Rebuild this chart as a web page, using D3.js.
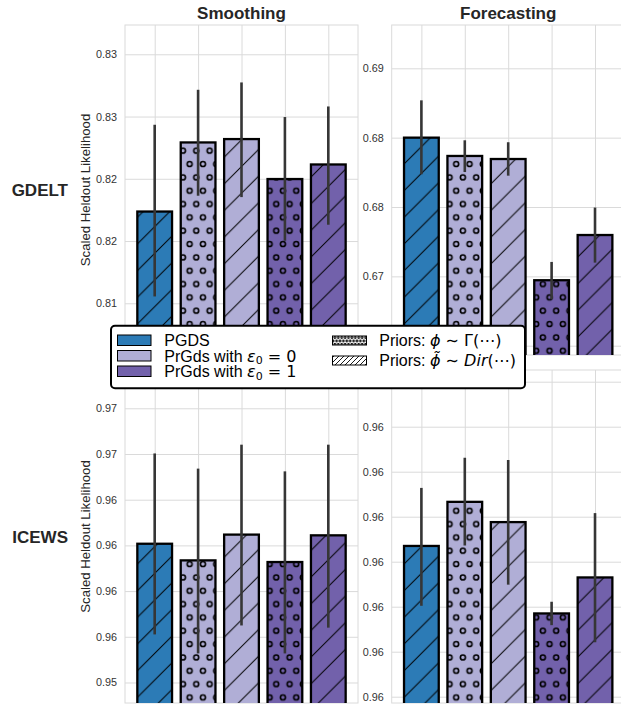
<!DOCTYPE html>
<html>
<head>
<meta charset="utf-8">
<script src="https://cdn.jsdelivr.net/npm/d3@7"></script>
<style>
  html, body { margin: 0; padding: 0; background: #fff; }
  svg { display: block; font-family: "Liberation Sans", Arial, sans-serif; }
</style>
</head>
<body>
<svg id="chart" width="621" height="706"></svg>
<script>
// ---------------- DATA ----------------
const models = ["PGDS", "PrGDS e0=0 Gamma", "PrGDS e0=0 Dir", "PrGDS e0=1 Gamma", "PrGDS e0=1 Dir"];
const modelColorKey = ["pgds", "eps0", "eps0", "eps1", "eps1"];
const modelHatchKey = ["dir", "gamma", "dir", "gamma", "dir"];

const colTitles = ["Smoothing", "Forecasting"];
const rowTitles = ["GDELT", "ICEWS"];
const yAxisLabel = "Scaled Heldout Likelihood";

// GDELT – Smoothing
const gdeltSmoothMean = [0.82237, 0.82792, 0.82819, 0.82498, 0.82615];
const gdeltSmoothLow  = [0.81555, 0.82364, 0.82353, 0.82002, 0.82131];
const gdeltSmoothHigh = [0.82934, 0.83215, 0.83274, 0.82996, 0.83081];
const gdeltSmoothLim  = [0.810847, 0.837353];
const gdeltSmoothTicks = [0.835, 0.830, 0.825, 0.820, 0.815];
const gdeltSmoothTickLabels = ["0.83", "0.83", "0.82", "0.82", "0.81"];

// GDELT – Forecasting (lowest tick label is hidden behind the legend)
const gdeltForecastMean = [0.68500, 0.68368, 0.68346, 0.67472, 0.67798];
const gdeltForecastLow  = [0.68236, 0.68252, 0.68226, 0.67335, 0.67599];
const gdeltForecastHigh = [0.68769, 0.68481, 0.68467, 0.67604, 0.67996];
const gdeltForecastLim  = [0.66933, 0.693122];
const gdeltForecastTicks = [0.690, 0.685, 0.680, 0.675, 0.670];
const gdeltForecastTickLabels = ["0.69", "0.68", "0.68", "0.67", ""];

// ICEWS – Smoothing
const icewsSmoothMean = [0.96259, 0.96168, 0.96309, 0.96159, 0.96305];
const icewsSmoothLow  = [0.95763, 0.95659, 0.95812, 0.95659, 0.95800];
const icewsSmoothHigh = [0.96753, 0.96670, 0.96801, 0.96655, 0.96801];
const icewsSmoothLim  = [0.953878, 0.972095];
const icewsSmoothTicks = [0.9700, 0.9675, 0.9650, 0.9625, 0.9600, 0.9575, 0.9550];
const icewsSmoothTickLabels = ["0.97", "0.97", "0.96", "0.96", "0.96", "0.96", "0.95"];

// ICEWS – Forecasting (top tick label is hidden behind the legend)
const icewsForecastMean = [0.96135, 0.96233, 0.96188, 0.95985, 0.96065];
const icewsForecastLow  = [0.96002, 0.96136, 0.96049, 0.95959, 0.95921];
const icewsForecastHigh = [0.96264, 0.96331, 0.96326, 0.96011, 0.96208];
const icewsForecastLim  = [0.95786, 0.96526];
const icewsForecastTicks = [0.965, 0.964, 0.963, 0.962, 0.961, 0.960, 0.959, 0.958];
const icewsForecastTickLabels = ["", "0.96", "0.96", "0.96", "0.96", "0.96", "0.96", "0.96"];

const legendColorLabels = ["PGDS", "PrGds with ε0 = 0", "PrGds with ε0 = 1"];
const legendHatchLabels = ["Priors: ϕ ∼ Γ(⋯)", "Priors: ϕ̃ ∼ Dir(⋯)"];

// ---------------- STYLE / LAYOUT ----------------
const colors = { pgds: "#2c7bb6", eps0: "#b0aed6", eps1: "#7261ab" };
const gridColor = "#dadada";
const textColor = "#262626";
const tickColor = "#333333";

const colX = [[125, 358], [391.7, 624.7]];
const rowY = [[25, 355], [370, 703]];

const panels = [
  { r: 0, c: 0, mean: gdeltSmoothMean, lo: gdeltSmoothLow, hi: gdeltSmoothHigh, lim: gdeltSmoothLim, ticks: gdeltSmoothTicks, labels: gdeltSmoothTickLabels },
  { r: 0, c: 1, mean: gdeltForecastMean, lo: gdeltForecastLow, hi: gdeltForecastHigh, lim: gdeltForecastLim, ticks: gdeltForecastTicks, labels: gdeltForecastTickLabels },
  { r: 1, c: 0, mean: icewsSmoothMean, lo: icewsSmoothLow, hi: icewsSmoothHigh, lim: icewsSmoothLim, ticks: icewsSmoothTicks, labels: icewsSmoothTickLabels },
  { r: 1, c: 1, mean: icewsForecastMean, lo: icewsForecastLow, hi: icewsForecastHigh, lim: icewsForecastLim, ticks: icewsForecastTicks, labels: icewsForecastTickLabels },
];

const svg = d3.select("#chart");
const defs = svg.append("defs");

// hatch patterns (anchored to canvas, like matplotlib)
const S = 26.67;
defs.append("pattern").attr("id", "hatch-dir").attr("patternUnits", "userSpaceOnUse")
  .attr("width", S).attr("height", S).attr("x", 0).attr("y", 8)
  .append("path")
  .attr("d", `M0,${S} L${S},0 M${-S/2},${S/2} L${S/2},${-S/2} M${S/2},${1.5*S} L${1.5*S},${S/2}`)
  .attr("stroke", "#000").attr("stroke-width", 1).attr("fill", "none");

const W = 13.33, H = 26.67;
const pc = defs.append("pattern").attr("id", "hatch-gamma").attr("patternUnits", "userSpaceOnUse")
  .attr("width", W).attr("height", H).attr("x", 3).attr("y", 4);
[[0,0],[W,0],[0,H],[W,H],[W/2,H/2]].forEach(([cx, cy]) => {
  pc.append("circle").attr("cx", cx).attr("cy", cy).attr("r", 2.5)
    .attr("fill", "none").attr("stroke", "#000").attr("stroke-width", 1.6);
});

// dense patterns for legend swatches
const s2 = 5;
defs.append("pattern").attr("id", "leg-dir").attr("patternUnits", "userSpaceOnUse")
  .attr("width", s2).attr("height", s2)
  .append("path")
  .attr("d", `M0,${s2} L${s2},0 M${-s2/2},${s2/2} L${s2/2},${-s2/2} M${s2/2},${1.5*s2} L${1.5*s2},${s2/2}`)
  .attr("stroke", "#000").attr("stroke-width", 0.9).attr("fill", "none");
const w3 = 3.4, h3 = 6.8;
const lp = defs.append("pattern").attr("id", "leg-gamma").attr("patternUnits", "userSpaceOnUse")
  .attr("width", w3).attr("height", h3).attr("x", 0).attr("y", 1);
[[0,0],[w3,0],[0,h3],[w3,h3],[w3/2,h3/2]].forEach(([cx, cy]) => {
  lp.append("circle").attr("cx", cx).attr("cy", cy).attr("r", 0.9)
    .attr("fill", "none").attr("stroke", "#000").attr("stroke-width", 0.9);
});

panels.forEach(p => {
  const [x0, x1] = colX[p.c];
  const [y0, y1] = rowY[p.r];
  const g = svg.append("g");

  const x = d3.scalePoint().domain(models).range([x0, x1]).padding(0.684);
  const y = d3.scaleLinear().domain(p.lim).range([y1, y0]);
  const bw = x.step() * 0.8;

  const clipId = `clip-${p.r}-${p.c}`;
  defs.append("clipPath").attr("id", clipId).append("rect")
    .attr("x", x0).attr("y", y0).attr("width", x1 - x0).attr("height", y1 - y0);

  // vertical grid
  const gx = g.append("g").attr("transform", `translate(0,${y1})`)
    .call(d3.axisBottom(x).tickSizeInner(-(y1 - y0)).tickSizeOuter(0).tickFormat(""));
  gx.select(".domain").remove();
  gx.selectAll("line").attr("stroke", gridColor).attr("stroke-width", 1);

  // horizontal grid + tick labels
  const gy = g.append("g").attr("transform", `translate(${x0},0)`)
    .call(d3.axisLeft(y).tickValues(p.ticks)
      .tickFormat((d, i) => p.labels[i])
      .tickSizeInner(-(x1 - x0)).tickSizeOuter(0).tickPadding(8));
  gy.select(".domain").remove();
  gy.selectAll("line").attr("stroke", gridColor).attr("stroke-width", 1);
  gy.selectAll("text").attr("fill", tickColor).attr("font-size", 10.8)
    .attr("font-family", "Liberation Sans, Arial, sans-serif");
  gy.selectAll("text").filter(function() { return this.textContent === ""; }).remove();

  // spines
  g.append("rect").attr("x", x0).attr("y", y0).attr("width", x1 - x0).attr("height", y1 - y0)
    .attr("fill", "none").attr("stroke", gridColor).attr("stroke-width", 1);

  const bars = g.append("g").attr("clip-path", `url(#${clipId})`);
  const idx = d3.range(models.length);

  bars.selectAll("rect.fill").data(idx).join("rect")
    .attr("x", i => x(models[i]) - bw / 2).attr("width", bw)
    .attr("y", i => y(p.mean[i])).attr("height", i => y(p.lim[0]) - y(p.mean[i]))
    .attr("fill", i => colors[modelColorKey[i]]);
  bars.selectAll("rect.hatch").data(idx).join("rect")
    .attr("x", i => x(models[i]) - bw / 2).attr("width", bw)
    .attr("y", i => y(p.mean[i])).attr("height", i => y(p.lim[0]) - y(p.mean[i]))
    .attr("fill", i => `url(#hatch-${modelHatchKey[i]})`);
  bars.selectAll("rect.edge").data(idx).join("rect")
    .attr("x", i => x(models[i]) - bw / 2).attr("width", bw)
    .attr("y", i => y(p.mean[i])).attr("height", i => y(p.lim[0]) - y(p.mean[i]) + 3)
    .attr("fill", "none").attr("stroke", "#000").attr("stroke-width", 2.3);

  // error bars
  g.append("g").selectAll("line").data(idx).join("line")
    .attr("x1", i => x(models[i])).attr("x2", i => x(models[i]))
    .attr("y1", i => y(p.lo[i])).attr("y2", i => y(p.hi[i]))
    .attr("stroke", "#363636").attr("stroke-width", 2.6);

  if (p.r === 0) {
    svg.append("text").attr("x", (x0 + x1) / 2).attr("y", 18.5)
      .attr("text-anchor", "middle").attr("font-weight", "bold").attr("font-size", 17)
      .attr("fill", textColor).text(colTitles[p.c]);
  }
  if (p.c === 0) {
    const cy = (y0 + y1) / 2;
    svg.append("text").attr("transform", `translate(90,${cy}) rotate(-90)`)
      .attr("text-anchor", "middle").attr("font-size", 13.2).attr("fill", textColor)
      .text(yAxisLabel);
    svg.append("text").attr("x", 68).attr("y", cy + 6)
      .attr("text-anchor", "end").attr("font-weight", "bold").attr("font-size", 17)
      .attr("fill", textColor).text(rowTitles[p.r]);
  }
});

// ---------------- LEGEND ----------------
const lg = svg.append("g");
lg.append("rect").attr("x", 111).attr("y", 325.7).attr("width", 414).attr("height", 62.6)
  .attr("rx", 4).attr("fill", "#fff").attr("stroke", "#000").attr("stroke-width", 2);

const colorKeys = ["pgds", "eps0", "eps1"];
const colBase = [346, 361.5, 377];
legendColorLabels.forEach((lab, i) => {
  lg.append("rect").attr("x", 117.5).attr("y", colBase[i] - 11).attr("width", 33.5).attr("height", 10.5)
    .attr("fill", colors[colorKeys[i]]).attr("stroke", "#000").attr("stroke-width", 1);
  const t = lg.append("text").attr("x", 164.3).attr("y", colBase[i]).attr("font-size", 16).attr("fill", "#000");
  const m = lab.match(/^(.*?)ε(\d)(.*)$/);
  if (!m) { t.text(lab); return; }
  t.append("tspan").text(m[1]);
  t.append("tspan").attr("font-family", "DejaVu Sans").attr("font-style", "italic").text("ε");
  t.append("tspan").attr("font-family", "DejaVu Sans").attr("font-size", 11).attr("dy", 2.5).text(m[2]);
  t.append("tspan").attr("font-family", "DejaVu Sans").attr("dy", -2.5).text(m[3]);
});

const hatchBase = [346, 366];
const hatchFill = ["leg-gamma", "leg-dir"];
legendHatchLabels.forEach((lab, i) => {
  lg.append("rect").attr("x", 332.5).attr("y", hatchBase[i] - 10).attr("width", 34).attr("height", 9)
    .attr("fill", "#fff").attr("stroke", "none");
  lg.append("rect").attr("x", 332.5).attr("y", hatchBase[i] - 10).attr("width", 34).attr("height", 9)
    .attr("fill", `url(#${hatchFill[i]})`).attr("stroke", "#000").attr("stroke-width", 1);
  const t = lg.append("text").attr("x", 379.3).attr("y", hatchBase[i]).attr("font-size", 16).attr("fill", "#000");
  const parts = lab.split(": ");
  t.append("tspan").text(parts[0] + ": ");
  const rest = parts[1];
  const phi = rest.startsWith("ϕ̃") ? "ϕ̃" : "ϕ";
  t.append("tspan").attr("font-family", "DejaVu Sans").attr("font-style", "italic").text(phi);
  const after = rest.slice(phi.length);
  const dm = after.match(/^(.*?∼ )(Dir)?(.*)$/);
  t.append("tspan").attr("font-family", "DejaVu Sans").text(dm[1]);
  if (dm[2]) t.append("tspan").attr("font-family", "DejaVu Sans").attr("font-style", "italic").text(dm[2]);
  t.append("tspan").attr("font-family", "DejaVu Sans").text(dm[3]);
});
</script>
</body>
</html>
